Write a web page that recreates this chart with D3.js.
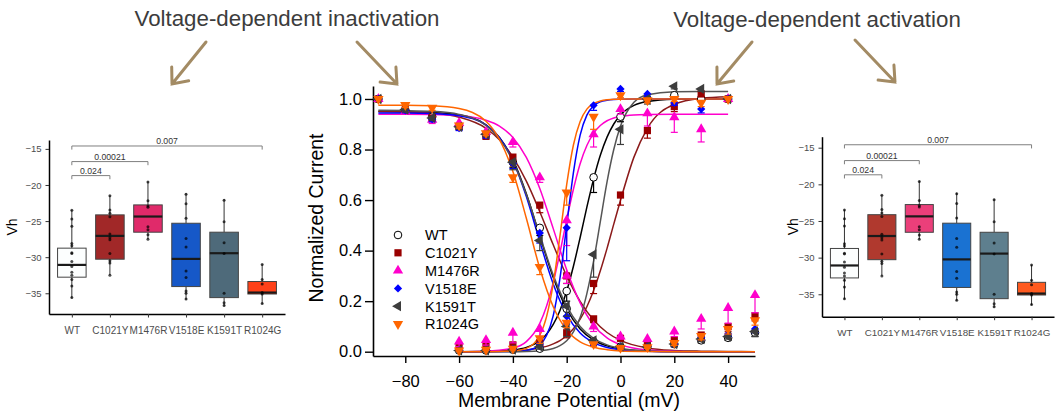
<!DOCTYPE html>
<html>
<head>
<meta charset="utf-8">
<script src="https://cdn.jsdelivr.net/npm/d3@7"></script>
<style>
  body { margin: 0; background: #fff; }
  svg { display: block; }
  text { font-family: "Liberation Sans", Arial, sans-serif; }
</style>
</head>
<body>
<svg id="fig" width="1055" height="412"></svg>
<script>
// ---- data ----
const mutants = ['WT', 'C1021Y', 'M1476R', 'V1518E', 'K1591T', 'R1024G'];

// steady-state inactivation / activation points (mean, SEM drawn downward)
const inactVolts = [-90, -80, -70, -60, -50, -40, -30, -20, -10, 0, 10, 20, 30, 40, 50];
const inactMean = [
    [1.0, 0.957, 0.93, 0.895, 0.86, 0.75, 0.49, 0.17, 0.04, 0.02, 0.02, 0.03, 0.045, 0.055, 0.075],
    [1.0, 0.957, 0.925, 0.89, 0.855, 0.77, 0.58, 0.30, 0.13, 0.053, 0.034, 0.046, 0.066, 0.099, 0.142],
    [1.0, 0.95, 0.918, 0.905, 0.87, 0.83, 0.69, 0.30, 0.10, 0.06, 0.05, 0.08, 0.13, 0.173, 0.224],
    [1.0, 0.955, 0.92, 0.885, 0.855, 0.745, 0.47, 0.14, 0.035, 0.02, 0.02, 0.03, 0.055, 0.07, 0.09],
    [1.0, 0.958, 0.925, 0.89, 0.86, 0.75, 0.44, 0.18, 0.045, 0.02, 0.02, 0.03, 0.05, 0.06, 0.08],
    [1.0, 0.976, 0.965, 0.895, 0.865, 0.69, 0.335, 0.115, 0.03, 0.015, 0.018, 0.035, 0.062, 0.09, 0.125]
];
const inactErr = [
    [0, 0.01, 0.01, 0.01, 0.01, 0.02, 0.03, 0.03, 0.01, 0.005, 0.005, 0.01, 0.01, 0.01, 0.015],
    [0, 0.01, 0.01, 0.01, 0.015, 0.02, 0.03, 0.03, 0.015, 0.01, 0.01, 0.01, 0.015, 0.02, 0.02],
    [0, 0.01, 0.015, 0.01, 0.01, 0.02, 0.02, 0.03, 0.02, 0.01, 0.01, 0.02, 0.04, 0.06, 0.07],
    [0, 0.01, 0.01, 0.01, 0.01, 0.02, 0.04, 0.03, 0.01, 0.005, 0.005, 0.01, 0.01, 0.01, 0.015],
    [0, 0.01, 0.01, 0.01, 0.01, 0.03, 0.04, 0.04, 0.01, 0.005, 0.005, 0.01, 0.01, 0.01, 0.02],
    [0, 0.01, 0.01, 0.01, 0.01, 0.02, 0.03, 0.02, 0.01, 0.005, 0.005, 0.01, 0.015, 0.02, 0.02]
];
const actVolts = [-60, -50, -40, -30, -20, -10, 0, 10, 20, 30, 40];
const actMean = [
    [0.005, 0.005, 0.008, 0.012, 0.24, 0.69, 0.93, 1.0, 1.015, 1.0, 1.0],
    [0.02, 0.024, 0.027, 0.035, 0.075, 0.27, 0.62, 0.875, 0.97, 1.02, 1.0],
    [0.04, 0.046, 0.075, 0.09, 0.52, 0.86, 0.96, 0.943, 0.928, 0.88, 1.0],
    [0.005, 0.006, 0.01, 0.03, 0.49, 0.975, 1.04, 1.02, 0.985, 0.96, 1.0],
    [0.005, 0.005, 0.008, 0.02, 0.10, 0.385, 0.88, 1.0, 1.05, 1.04, 1.0],
    [0.005, 0.008, 0.012, 0.053, 0.63, 0.93, 1.015, 0.995, 1.0, 0.985, 1.0]
];
const actErr = [
    [0.003, 0.003, 0.005, 0.005, 0.04, 0.06, 0.02, 0.01, 0.01, 0.01, 0],
    [0.01, 0.01, 0.01, 0.01, 0.02, 0.04, 0.04, 0.03, 0.02, 0.01, 0],
    [0.02, 0.02, 0.04, 0.03, 0.10, 0.05, 0.02, 0.05, 0.06, 0.05, 0],
    [0.003, 0.003, 0.005, 0.01, 0.13, 0.02, 0.01, 0.01, 0.01, 0.015, 0],
    [0.003, 0.003, 0.005, 0.01, 0.04, 0.09, 0.06, 0.02, 0.01, 0.01, 0],
    [0.003, 0.003, 0.005, 0.02, 0.05, 0.05, 0.01, 0.01, 0.01, 0.015, 0]
];

// fitted curves, sampled along the drawn lines
const inactFitVolts = [-90, -80, -70, -60, -50, -45, -40, -35, -30, -25, -20, -15, -10, -5, 0, 10, 20, 30, 40, 50];
const inactFit = [
    [0.95, 0.949, 0.947, 0.937, 0.898, 0.848, 0.76, 0.625, 0.458, 0.294, 0.169, 0.09, 0.046, 0.023, 0.011, 0.003, 0.001, 0, 0, 0],
    [0.951, 0.949, 0.944, 0.928, 0.884, 0.839, 0.77, 0.675, 0.554, 0.423, 0.30, 0.199, 0.125, 0.076, 0.045, 0.015, 0.005, 0.002, 0.001, 0],
    [0.94, 0.94, 0.939, 0.934, 0.916, 0.893, 0.848, 0.769, 0.646, 0.487, 0.324, 0.193, 0.105, 0.055, 0.028, 0.007, 0.002, 0, 0, 0],
    [0.945, 0.945, 0.943, 0.934, 0.897, 0.847, 0.756, 0.614, 0.436, 0.268, 0.147, 0.074, 0.036, 0.017, 0.008, 0.002, 0, 0, 0, 0],
    [0.955, 0.954, 0.951, 0.939, 0.895, 0.842, 0.754, 0.622, 0.461, 0.303, 0.18, 0.1, 0.053, 0.027, 0.014, 0.003, 0.001, 0, 0, 0],
    [0.975, 0.975, 0.973, 0.962, 0.912, 0.84, 0.713, 0.528, 0.33, 0.178, 0.086, 0.039, 0.018, 0.008, 0.003, 0.001, 0, 0, 0, 0]
];
const actFitVolts = [-60, -50, -40, -35, -30, -27.5, -25, -22.5, -20, -17.5, -15, -12.5, -10, -7.5, -5, -2.5, 0, 5, 10, 20, 30, 40];
const actFit = [
    [0, 0.001, 0.007, 0.017, 0.044, 0.069, 0.108, 0.163, 0.24, 0.338, 0.452, 0.572, 0.683, 0.777, 0.849, 0.901, 0.937, 0.975, 0.99, 0.999, 1, 1],
    [0, 0.001, 0.003, 0.007, 0.015, 0.021, 0.031, 0.044, 0.064, 0.091, 0.129, 0.178, 0.242, 0.32, 0.409, 0.505, 0.599, 0.77, 0.884, 0.979, 1.003, 1.009],
    [0, 0.002, 0.014, 0.04, 0.112, 0.18, 0.274, 0.392, 0.522, 0.643, 0.744, 0.816, 0.864, 0.895, 0.914, 0.925, 0.931, 0.937, 0.939, 0.94, 0.94, 0.94],
    [0, 0, 0.001, 0.005, 0.027, 0.064, 0.143, 0.291, 0.5, 0.709, 0.857, 0.936, 0.973, 0.989, 0.995, 0.998, 0.999, 1, 1, 1, 1, 1],
    [0, 0, 0, 0.001, 0.004, 0.007, 0.013, 0.024, 0.043, 0.078, 0.135, 0.23, 0.358, 0.515, 0.672, 0.80, 0.893, 0.987, 1.017, 1.029, 1.03, 1.03],
    [0, 0, 0.003, 0.013, 0.065, 0.138, 0.269, 0.458, 0.661, 0.818, 0.911, 0.96, 0.982, 0.992, 0.997, 0.999, 0.999, 1, 1, 1, 1, 1]
];
const xTicks = [-80, -60, -40, -20, 0, 20, 40];
const yTicks = [0, 0.2, 0.4, 0.6, 0.8, 1.0];

// Vh box plots (same panel shown for both sides)
const boxQ1 = [-32.77, -30.28, -26.54, -34.07, -35.6, -35.1];
const boxMedian = [-31.07, -27.05, -24.37, -30.24, -29.45, -34.9];
const boxQ3 = [-28.75, -24.14, -22.76, -25.3, -26.54, -33.37];
const whiskerLo = [-35.7, -32.45, -27.5, -35.9, -36.8, -36.5];
const whiskerHi = [-23.45, -21.46, -19.52, -21.14, -21.97, -30.97];
const vhPoints = [
    [-23.5, -24.7, -25.7, -28.1, -28.4, -29.4, -29.5, -30.6, -31.3, -32.1, -32.5, -33.1, -34.0, -35.6],
    [-21.5, -23.45, -23.9, -24.4, -26.8, -27.3, -27.6, -29.5, -30.5, -30.8, -32.5],
    [-19.6, -22.2, -22.9, -23.1, -25.8, -26.2, -26.9, -27.5],
    [-21.3, -22.6, -24.6, -27.4, -28.6, -31.9, -32.8, -34.7, -35.0, -35.8],
    [-22.1, -25.1, -28.0, -29.5, -35.0, -36.3, -36.7],
    [-31.0, -33.1, -33.7, -34.9, -35.1, -36.4]
];
const vhTicks = [-35, -30, -25, -20, -15];
const compPairs = [['WT', 'C1021Y'], ['WT', 'M1476R'], ['WT', 'R1024G']];
const compP = ['0.024', '0.00021', '0.007'];
const compLevel = [-18.7, -16.76, -14.6];

// ---- styles ----
const markerColors = ['#000000', '#990000', '#ff00cc', '#0000ff', '#3d3d3d', '#ff6600'];
const curveColors = ['#000000', '#8b1a1a', '#ff00cc', '#0000ff', '#555555', '#ff6600'];
const markerShapes = ['circle', 'square', 'triangle', 'diamond', 'left', 'down'];
const leftFills = ['#fcfefe', '#a12828', '#e02a6a', '#1658c8', '#4e6a7a', '#ff4119'];
const rightFills = ['#fcfefe', '#b0392e', '#eb3f7a', '#1a72d2', '#5e7f8e', '#ff5a1f'];
const arrowColor = '#a38b64';

const svg = d3.select('#fig');

// ---- titles and arrows ----
const titles = [
    {text: 'Voltage-dependent inactivation', x: 287, y: 26},
    {text: 'Voltage-dependent activation', x: 817, y: 26.5}
];
svg.selectAll('.title').data(titles).enter().append('text')
    .attr('class', 'title')
    .attr('x', d => d.x).attr('y', d => d.y)
    .attr('text-anchor', 'middle')
    .attr('font-size', 22.3)
    .attr('fill', '#3c3c3c')
    .text(d => d.text);

const arrows = [
    {x1: 206, y1: 42, x2: 172, y2: 84},
    {x1: 357, y1: 42, x2: 397, y2: 84},
    {x1: 752, y1: 42, x2: 717, y2: 84},
    {x1: 855, y1: 40, x2: 895, y2: 82}
];
arrows.forEach(a => {
    let back = Math.atan2(a.y1 - a.y2, a.x1 - a.x2);
    let len = 17, spread = 40 * Math.PI / 180;
    let p = d3.path();
    p.moveTo(a.x1, a.y1); p.lineTo(a.x2, a.y2);
    p.moveTo(a.x2 + len * Math.cos(back - spread), a.y2 + len * Math.sin(back - spread));
    p.lineTo(a.x2, a.y2);
    p.lineTo(a.x2 + len * Math.cos(back + spread), a.y2 + len * Math.sin(back + spread));
    svg.append('path').attr('d', p.toString())
        .attr('fill', 'none').attr('stroke', arrowColor)
        .attr('stroke-width', 3).attr('stroke-linecap', 'round');
});

// ---- central I/V plot ----
const x = d3.scaleLinear().domain([-92, 50]).range([373, 755]);
const y = d3.scaleLinear().domain([-0.017, 1.0514]).range([356, 86]);
const main = svg.append('g');

let xAxis = main.append('g')
    .attr('transform', 'translate(0,356)')
    .call(d3.axisBottom(x).tickValues(xTicks).tickSize(7).tickSizeOuter(0)
        .tickPadding(12).tickFormat(d3.format('d')));
let yAxis = main.append('g')
    .attr('transform', 'translate(373,0)')
    .call(d3.axisLeft(y).tickValues(yTicks).tickSize(8).tickSizeOuter(0)
        .tickPadding(3).tickFormat(d3.format('.1f')));
[xAxis, yAxis].forEach(ax => {
    ax.select('.domain').attr('stroke', '#000').attr('stroke-width', 1.6);
    ax.selectAll('.tick line').attr('stroke', '#000').attr('stroke-width', 1.4);
    ax.selectAll('.tick text').attr('font-size', 16.5).attr('fill', '#000')
        .style('font-family', '"Liberation Sans", Arial, sans-serif');
});

main.append('text')
    .attr('x', 569).attr('y', 407)
    .attr('text-anchor', 'middle').attr('font-size', 19.5)
    .text('Membrane Potential (mV)');
main.append('text')
    .attr('transform', 'translate(323,218) rotate(-90)')
    .attr('text-anchor', 'middle').attr('font-size', 19.5)
    .text('Normalized Current');

// fitted curves
let line = d3.line()
    .x(d => x(d[0]))
    .y(d => y(d[1]))
    .curve(d3.curveMonotoneX);
mutants.forEach((m, i) => {
    main.append('path')
        .datum(inactFitVolts.map((v, j) => [v, inactFit[i][j]]))
        .attr('d', line)
        .attr('fill', 'none').attr('stroke', curveColors[i]).attr('stroke-width', 1.5);
    main.append('path')
        .datum(actFitVolts.map((v, j) => [v, actFit[i][j]]))
        .attr('d', line)
        .attr('fill', 'none').attr('stroke', curveColors[i]).attr('stroke-width', 1.5);
});

function symbolPath(shape) {
    let types = {circle: d3.symbolCircle, square: d3.symbolSquare, triangle: d3.symbolTriangle,
                 diamond: d3.symbolSquare, left: d3.symbolTriangle, down: d3.symbolTriangle};
    let sizes = {circle: 46, square: 52, triangle: 46, diamond: 34, left: 46, down: 46};
    return d3.symbol().type(types[shape]).size(sizes[shape])();
}
const shapeRotation = {left: -90, down: 180, diamond: 45};

function drawMarker(g, shape, i, cx, cy) {
    let open = shape === 'circle';
    g.append('path')
        .attr('d', symbolPath(shape))
        .attr('transform', `translate(${cx},${cy}) rotate(${shapeRotation[shape] || 0})`)
        .attr('fill', open ? '#fff' : markerColors[i])
        .attr('stroke', open ? '#000' : 'none')
        .attr('stroke-width', 1);
}

// error bars then markers
const markerLayer = main.append('g');
mutants.forEach((m, i) => {
    let pts = inactVolts.map((v, j) => ({v: v, mean: inactMean[i][j], err: inactErr[i][j]}))
        .concat(actVolts.map((v, j) => ({v: v, mean: actMean[i][j], err: actErr[i][j]})));
    let g = markerLayer.append('g');
    pts.filter(d => d.err > 0).forEach(d => {
        let cx = x(d.v), lo = y(d.mean - d.err);
        g.append('line').attr('x1', cx).attr('x2', cx)
            .attr('y1', y(d.mean)).attr('y2', lo)
            .attr('stroke', markerColors[i]).attr('stroke-width', 1.2);
        g.append('line').attr('x1', cx - 3.5).attr('x2', cx + 3.5)
            .attr('y1', lo).attr('y2', lo)
            .attr('stroke', markerColors[i]).attr('stroke-width', 1.2);
    });
    pts.forEach(d => drawMarker(g, markerShapes[i], i, x(d.v), y(d.mean)));
});

// legend
const legend = main.append('g');
mutants.forEach((m, i) => {
    let ly = 235 + i * 17.8;
    drawMarker(legend, markerShapes[i], i, 398, ly);
    legend.append('text')
        .attr('x', 425).attr('y', ly + 5.3)
        .attr('font-size', 14.5)
        .text(m);
});

// ---- Vh box plot panels ----
function drawBoxPanel(p, fills) {
    let g = svg.append('g');
    let bx = d3.scalePoint().domain(mutants).range([p.x0, p.x1]).padding(0.6);
    let by = d3.scaleLinear().domain(p.yDomain).range([p.yBottom, p.yTop]);
    let bw = bx.step() * 0.75;

    let ax = g.append('g').attr('transform', `translate(0,${p.yBottom})`)
        .call(d3.axisBottom(bx).tickSize(3.5).tickSizeOuter(0).tickPadding(9));
    let ay = g.append('g').attr('transform', `translate(${p.x0},0)`)
        .call(d3.axisLeft(by).tickValues(vhTicks).tickSize(3.5).tickSizeOuter(0).tickPadding(4));
    [ax, ay].forEach(a => {
        a.select('.domain').attr('stroke', '#000').attr('stroke-width', 1.5);
        a.selectAll('.tick line').attr('stroke', '#333');
        a.selectAll('.tick text').attr('fill', '#4d4d4d')
            .style('font-family', '"Liberation Sans", Arial, sans-serif');
    });
    ax.selectAll('.tick text').attr('font-size', p.labelSize);
    ay.selectAll('.tick text').attr('font-size', 9.5);

    g.append('text')
        .attr('transform', `translate(${p.labelX},${(p.yTop + p.yBottom) / 2}) rotate(-90)`)
        .attr('text-anchor', 'middle').attr('dy', '0.35em')
        .attr('font-size', 14)
        .text('Vh');

    mutants.forEach((m, i) => {
        let cx = bx(m);
        g.append('line').attr('x1', cx).attr('x2', cx)
            .attr('y1', by(whiskerLo[i])).attr('y2', by(boxQ1[i]))
            .attr('stroke', '#333');
        g.append('line').attr('x1', cx).attr('x2', cx)
            .attr('y1', by(boxQ3[i])).attr('y2', by(whiskerHi[i]))
            .attr('stroke', '#333');
        g.append('rect')
            .attr('x', cx - bw / 2).attr('width', bw)
            .attr('y', by(boxQ3[i])).attr('height', by(boxQ1[i]) - by(boxQ3[i]))
            .attr('fill', fills[i]).attr('stroke', '#444').attr('stroke-width', 1);
        g.append('line')
            .attr('x1', cx - bw / 2).attr('x2', cx + bw / 2)
            .attr('y1', by(boxMedian[i])).attr('y2', by(boxMedian[i]))
            .attr('stroke', '#1a1a1a').attr('stroke-width', 2.2);
        g.selectAll(null).data(vhPoints[i]).enter().append('circle')
            .attr('cx', cx).attr('cy', d => by(d)).attr('r', 1.5)
            .attr('fill', '#000').attr('opacity', 0.7);
    });

    compPairs.forEach((pair, k) => {
        let xa = bx(pair[0]), xb = bx(pair[1]);
        let yl = by(compLevel[k]), yt = by(compLevel[k] - 0.5);
        g.append('path')
            .attr('d', `M${xa},${yt}V${yl}H${xb}V${yt}`)
            .attr('fill', 'none').attr('stroke', '#7f7f7f').attr('stroke-width', 1);
        g.append('text')
            .attr('x', (xa + xb) / 2).attr('y', yl - 2)
            .attr('text-anchor', 'middle').attr('font-size', 8.7).attr('fill', '#333')
            .text(compP[k]);
    });
}

drawBoxPanel({x0: 49, x1: 285, yTop: 140, yBottom: 314, yDomain: [-37.87, -13.77],
              labelX: 12, labelSize: 10}, leftFills);
drawBoxPanel({x0: 822, x1: 1054, yTop: 136.7, yBottom: 316.7, yDomain: [-38.06, -13.5],
              labelX: 793, labelSize: 9.8}, rightFills);
</script>
</body>
</html>
